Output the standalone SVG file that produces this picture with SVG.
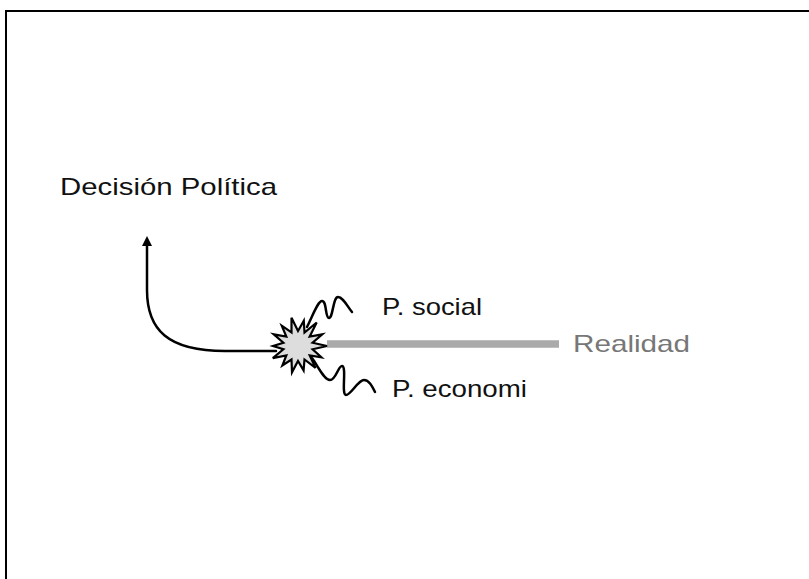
<svg xmlns="http://www.w3.org/2000/svg" width="809" height="579" viewBox="0 0 809 579">
<style>
.lbl{font-family:"Liberation Sans","Noto Sans",sans-serif;font-size:24px;fill:#111}
.gray{fill:#777}
.wire{fill:none;stroke:#000;stroke-width:2.5;stroke-linecap:round;stroke-linejoin:round}
</style>
<defs>
<marker id="ah" viewBox="0 0 10 10" refX="5" refY="5" markerWidth="10" markerHeight="11" markerUnits="userSpaceOnUse" orient="auto">
<path d="M0,0 L10,5 L0,10 Z" fill="#000"/>
</marker>
</defs>
<rect x="6" y="11" width="820" height="590" fill="#fff" stroke="#000" stroke-width="2"/>
<g id="connectors">
<path class="wire" d="M276 351 L225 351 C168 351 147 330 147 290 L147 241" marker-end="url(#ah)"/>
<path class="wire" d="M307 327 C313 315 318 301 322 301 C327 301 325 318 329 318 C333 318 333 297 338 297 C343 297 347 306 352 312"/>
<path class="wire" d="M312 358 C318 366 324 380 330 380 C336 380 338 366 342 366 C347 366 341 395 346 395 C351 395 358 380 364 380 C369 380 372 386 375 392"/>
<line x1="327" y1="344" x2="559" y2="344" stroke="#aaa" stroke-width="7.5"/>
</g>
<g id="burst">
<polygon points="327,346 312.6,349.3 321.4,357.3 309.7,355.4 315.5,367.9 304.5,359.5 303.6,370.4 298,361 292,372.3 291.5,359.5 282.4,365.5 286.3,355.4 272.8,358.1 283.4,349.3 273,346 283.4,342.7 273.7,334.3 286.3,336.6 281.8,325.7 291.5,332.5 291.5,317.7 298,331 303.8,320.7 304.5,332.5 316.7,322.5 309.7,336.6 322.3,334.3 312.6,342.7" fill="#ddd" stroke="#000" stroke-width="2.2" stroke-linejoin="miter"/>
</g>
<g id="decision"><text class="lbl" x="60" y="195" textLength="217" lengthAdjust="spacingAndGlyphs">Decisión Política</text></g>
<g id="social"><text class="lbl" x="382" y="315" textLength="100" lengthAdjust="spacingAndGlyphs">P. social</text></g>
<g id="economi"><text class="lbl" x="392" y="397" textLength="135" lengthAdjust="spacingAndGlyphs">P. economi</text></g>
<g id="realidad"><text class="lbl gray" x="573" y="352" textLength="117" lengthAdjust="spacingAndGlyphs">Realidad</text></g>
</svg>
